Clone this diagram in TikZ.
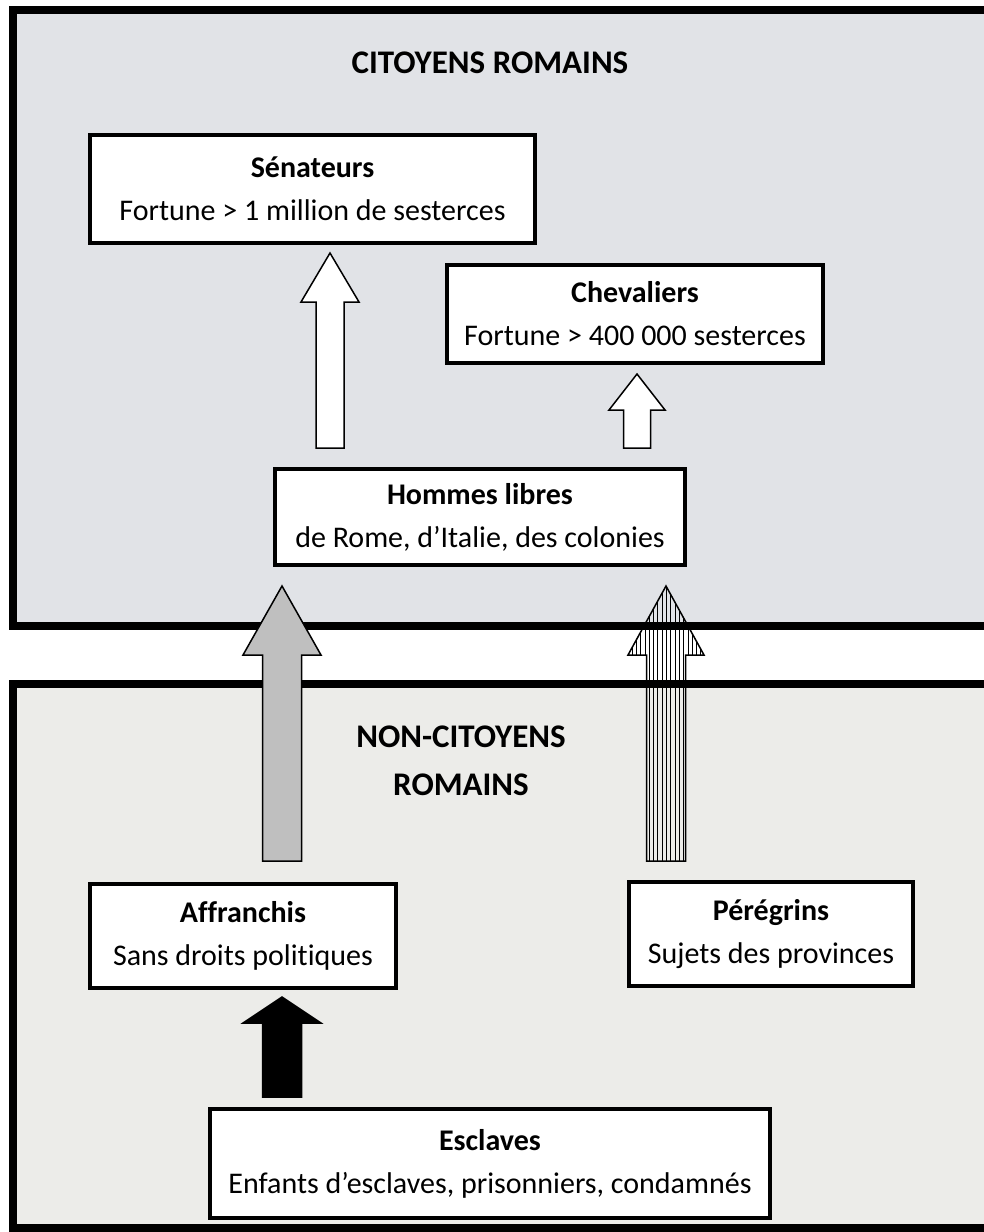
\documentclass[tikz,border=0pt]{standalone}
\usepackage{fontspec}
\setmainfont{Carlito}[Ligatures={NoCommon}]
\usetikzlibrary{calc,patterns.meta}
\definecolor{marble}{HTML}{E1E3E7}
\definecolor{granite}{HTML}{ECECE9}
\definecolor{ashgray}{HTML}{BFBFBF}

% block arrow pointing up: style, foot, tip, shaft half, head half, head length
\newcommand{\blkarrow}[6]{%
  \draw[#1] ($(#2)+(-#4,0)$) -- ($(#3)+(-#4,#6)$) -- ($(#3)+(-#5,#6)$) -- (#3)
    -- ($(#3)+(#5,#6)$) -- ($(#3)+(#4,#6)$) -- ($(#2)+(#4,0)$) -- cycle;}

\begin{document}
\begin{tikzpicture}[x=1pt,y=-1pt,
  box/.style={draw,line width=4pt,fill=white,align=center,inner sep=0pt,
              font=\fontsize{30}{43}\selectfont},
  panel/.style={draw,line width=8pt},
  ttl/.style={font=\fontsize{33}{48}\selectfont\bfseries,align=center},
  barrow/.style={draw,line width=1.5pt,line join=miter},
  awht/.style={barrow,fill=white},
  agry/.style={barrow,fill=ashgray},
  astr/.style={barrow,pattern={Lines[angle=90,distance=4.3pt,line width=1pt]}},
  ablk/.style={barrow,fill=black}]

\useasboundingbox[fill=white] (0,0) rectangle (983,1232);

% ------------------------------- panels -----------------------------------
\draw[panel,fill=marble]  (13,9.5)  rectangle (1000,625.5);
\draw[panel,fill=granite] (13,683.5) rectangle (1000,1228);

\node[ttl,anchor=base] (tcit) at (490,73) {CITOYENS ROMAINS};
\node[ttl,anchor=base] (tnon) at (461,747) {NON-CITOYENS};
\node[ttl,anchor=base] (trom) at (461,795) {ROMAINS};

% ------------------------------- citizens ---------------------------------
\node[box,minimum width=445pt,minimum height=108pt] (sen) at (312.5,189)
  {\textbf{Sénateurs}\\Fortune > 1 million de sesterces};
\node[box,minimum width=376pt,minimum height=98pt] (chev) at (635,314)
  {\textbf{Chevaliers}\\Fortune > 400 000 sesterces};
\node[box,minimum width=410pt,minimum height=96pt] (hom) at (480,517)
  {\textbf{Hommes libres}\\de Rome, d’Italie, des colonies};

% ----------------------------- non-citizens -------------------------------
\node[box,minimum width=306pt,minimum height=104pt] (aff) at (243,936)
  {\textbf{Affranchis}\\Sans droits politiques};
\node[box,minimum width=284pt,minimum height=104pt] (per) at (771,934)
  {\textbf{Pérégrins}\\Sujets des provinces};
\node[box,minimum width=560pt,minimum height=109pt] (esc) at (490,1163.5)
  {\textbf{Esclaves}\\Enfants d’esclaves, prisonniers, condamnés};

% ------------------------------- arrows -----------------------------------
\coordinate (senFoot)  at (330,448);  \coordinate (senTip)  at (330,253);
\coordinate (chevFoot) at (637,448);  \coordinate (chevTip) at (637,374);
\coordinate (affFoot)  at (282,861);  \coordinate (affTip)  at (282,586);
\coordinate (perFoot)  at (666,861);  \coordinate (perTip)  at (666,586);
\coordinate (escFoot)  at (282,1097); \coordinate (escTip)  at (282,997);

\blkarrow{awht}{senFoot}{senTip}{14}{29}{49}
\blkarrow{awht}{chevFoot}{chevTip}{13.5}{28}{36}
\blkarrow{agry}{affFoot}{affTip}{19.5}{39}{69}
\blkarrow{astr}{perFoot}{perTip}{19.5}{38}{69}
\blkarrow{ablk}{escFoot}{escTip}{19.5}{39}{26}
\end{tikzpicture}
\end{document}
